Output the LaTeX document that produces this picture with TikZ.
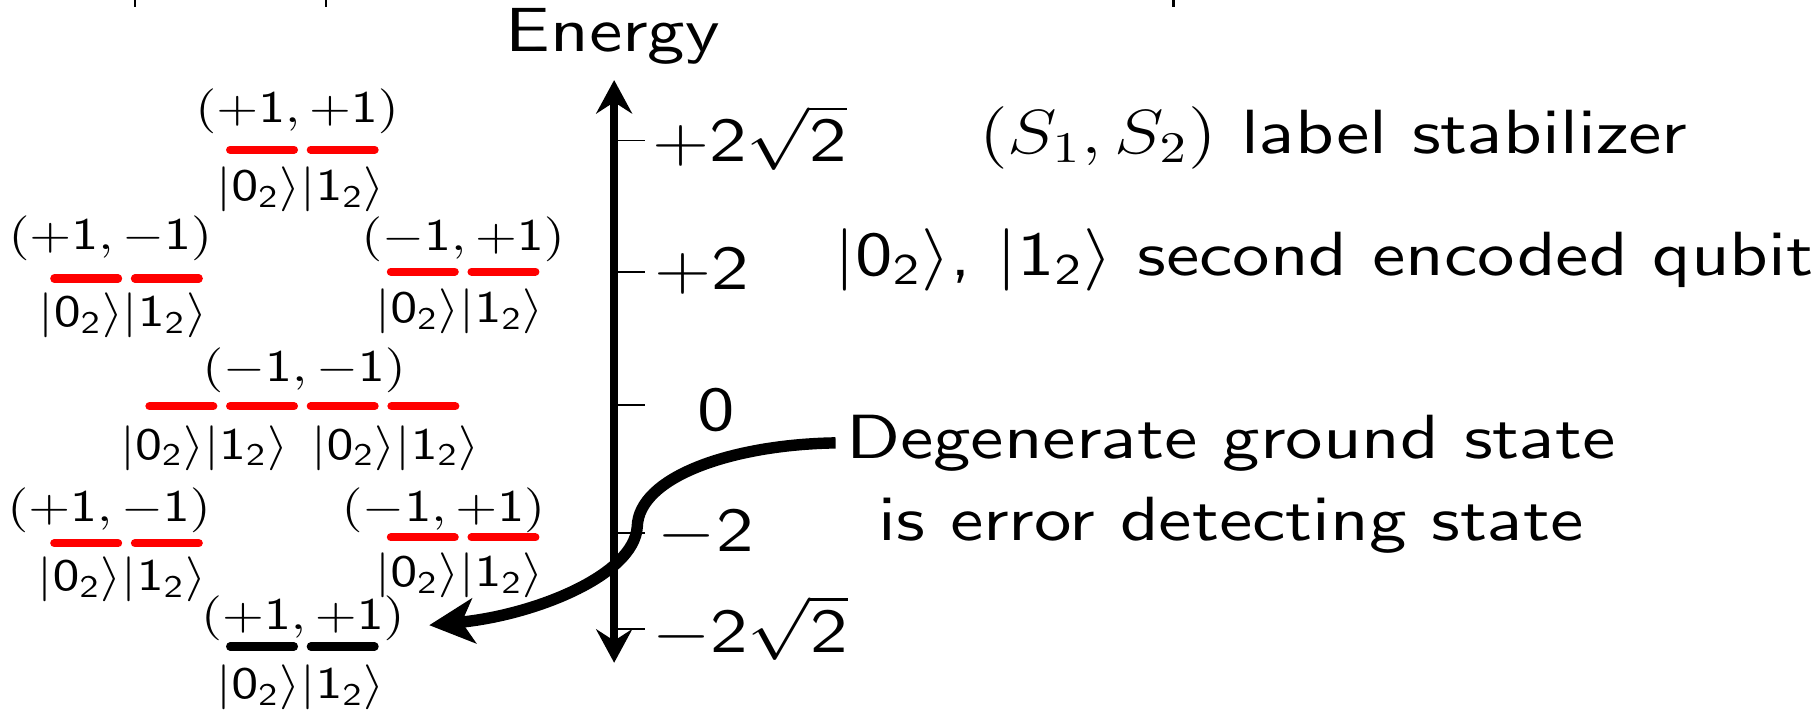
\RequirePackage{fix-cm}
\documentclass[tikz,border=0pt]{standalone}
\usepackage{tikz}
\usetikzlibrary{arrows.meta}

% cmss10 at every size, as in the slides
\DeclareFontFamily{OT1}{sfx}{}
\DeclareFontShape{OT1}{sfx}{m}{n}{<->cmss10}{}
\DeclareMathAlphabet{\mathsf}{OT1}{sfx}{m}{n}
\newcommand{\kz}{|\mathsf{0}_{\mathsf{2}}\rangle}
\newcommand{\ko}{|\mathsf{1}_{\mathsf{2}}\rangle}

\begin{document}
\begin{tikzpicture}[
    x=0.8333cm, xscale=1.2, transform shape,
    bigtxt/.style={font=\fontsize{15.3}{18}\fontencoding{OT1}\fontfamily{sfx}\selectfont, inner sep=0pt},
    smalltxt/.style={font=\fontsize{11}{13}\selectfont, inner sep=0pt},
    lvl/.style={red, line width=2pt, line cap=round},
    gnd/.style={black, line width=2pt, line cap=round},
    axisline/.style={{Stealth[length=8.2pt,width=8.8pt,inset=2.8pt]}-{Stealth[length=8.2pt,width=8.8pt,inset=2.8pt]}, line width=1.9pt},
    ar/.style={-{Stealth[length=11pt,width=11pt,inset=3pt]}, line width=2.8pt}]
  \useasboundingbox (0,0) rectangle (15.68,6.16);
  % marks along the top edge
  \foreach \x in {1.16,2.81,10.11}
    \draw[line width=0.5pt] (\x,6.16) -- (\x,6.10);

  % energy axis
  \node[bigtxt, anchor=base] (energy) at (5.28,5.715) {Energy};
  \coordinate (etop) at (5.29,5.47);
  \coordinate (ebot) at (5.29,0.45);
  \draw[axisline] (ebot) -- (etop);
  \foreach \y in {4.95,3.82,2.67,1.57,0.74}
    \draw[line width=0.45pt] (5.30,\y) -- (5.56,\y);
  \node[bigtxt, anchor=base west] (ta) at (5.61,4.765) {$+\mathsf{2}\sqrt{\mathsf{2}}$};
  \node[bigtxt, anchor=base west] (tb) at (5.63,3.665) {$+\mathsf{2}$};
  \node[bigtxt, anchor=base] (tc) at (6.17,2.45) {$\mathsf{0}$};
  \node[bigtxt, anchor=base west] (td) at (5.66,1.406) {$-\mathsf{2}$};
  \node[bigtxt, anchor=base west] (te) at (5.61,0.542) {$-\mathsf{2}\sqrt{\mathsf{2}}$};

  % legend
  \node[bigtxt, anchor=base] (stab) at (11.49,4.84) {$(S_1,S_2)$ label stabilizer};
  \node[bigtxt, anchor=base] (enc) at (11.41,3.79) {$\kz$, $\ko$ second encoded qubit};
  \node[bigtxt, anchor=base, inner xsep=2pt] (deg1) at (10.61,2.21) {Degenerate ground state};
  \node[bigtxt, anchor=base] (deg2) at (10.61,1.505) {is error detecting state};

  % levels
  \node[smalltxt] (pp) at (2.56,5.20) {$(+\mathsf{1},+\mathsf{1})$};
  \node[smalltxt] (kpp) at (2.59,4.53) {$\kz\ko$};
  \node[smalltxt] (pm1) at (0.95,4.11) {$(+\mathsf{1},-\mathsf{1})$};
  \node[smalltxt] (kpm1) at (1.06,3.44) {$\kz\ko$};
  \node[smalltxt] (mp1) at (3.99,4.10) {$(-\mathsf{1},+\mathsf{1})$};
  \node[smalltxt] (kmp1) at (3.96,3.48) {$\kz\ko$};
  \node[smalltxt] (mm) at (2.62,2.97) {$(-\mathsf{1},-\mathsf{1})$};
  \node[smalltxt] (kmma) at (1.76,2.30) {$\kz\ko$};
  \node[smalltxt] (kmmb) at (3.41,2.30) {$\kz\ko$};
  \node[smalltxt] (pm2) at (0.94,1.76) {$(+\mathsf{1},-\mathsf{1})$};
  \node[smalltxt] (kpm2) at (1.05,1.17) {$\kz\ko$};
  \node[smalltxt] (mp2) at (3.82,1.76) {$(-\mathsf{1},+\mathsf{1})$};
  \node[smalltxt] (kmp2) at (3.96,1.20) {$\kz\ko$};
  \node[smalltxt, outer xsep=5pt] (gs) at (2.61,0.83) {$(+\mathsf{1},+\mathsf{1})$};
  \node[smalltxt] (kgs) at (2.59,0.24) {$\kz\ko$};

  \foreach \x/\y in {2.605/4.87,1.09/3.76,3.99/3.82,1.09/1.48,3.99/1.53}
    \draw[lvl] (\x-0.6225,\y) -- ++(0.55,0) (\x+0.0725,\y) -- ++(0.55,0);
  \foreach \x in {1.2875,1.9825,2.6775,3.3725}
    \draw[lvl] (\x,2.66) -- ++(0.55,0);
  \draw[gnd] (1.9825,0.59) -- ++(0.55,0) (2.6775,0.59) -- ++(0.55,0);

  \draw[ar] (deg1.west) .. controls (6.3,2.33) and (5.5,2.05) .. (5.49,1.62)
    .. controls (5.46,1.2) and (4.6,0.86) .. ([yshift=-1.6pt]gs.east);
\end{tikzpicture}
\end{document}
